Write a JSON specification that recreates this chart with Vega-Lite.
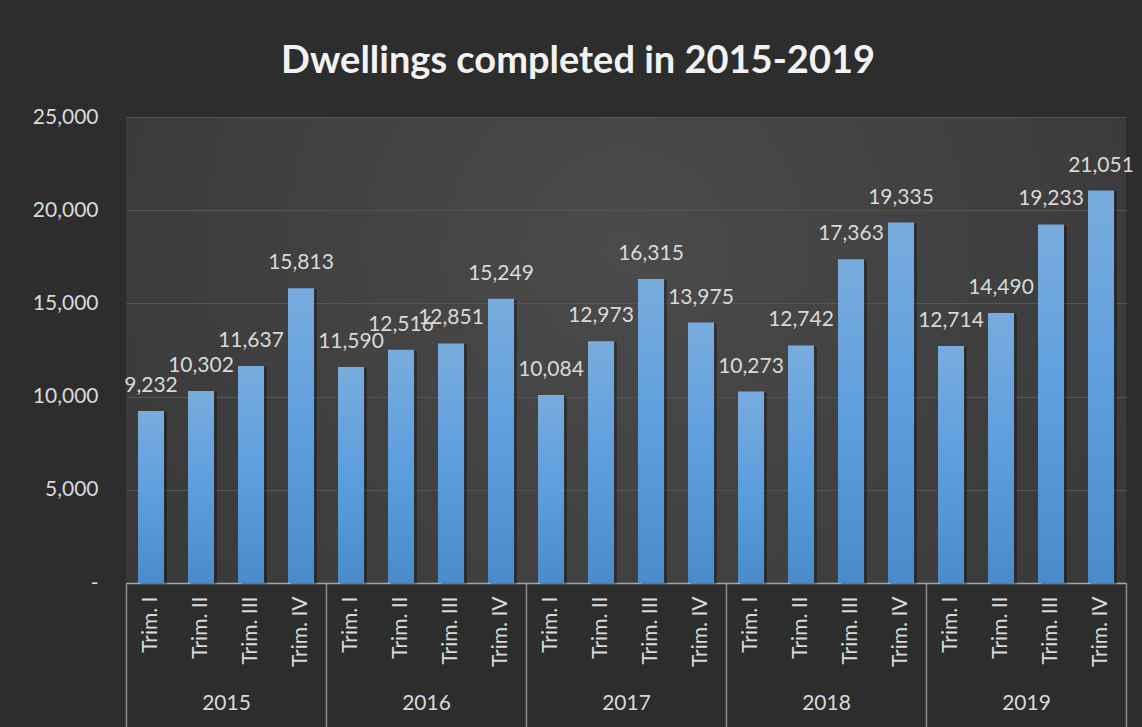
{
  "$schema": "https://vega.github.io/schema/vega-lite/v6.json",
  "width": 1000,
  "height": 466,
  "autosize": {"type": "none"},
  "padding": {"left": 126, "top": 117, "right": 16, "bottom": 144},
  "background": "#2d2d2d",
  "config": {
    "font": "Lato",
    "view": {
      "stroke": null,
      "fill": {
        "gradient": "radial",
        "x1": 0.5, "y1": 0.4, "r1": 0,
        "x2": 0.5, "y2": 0.4, "r2": 0.8,
        "stops": [
          {"offset": 0, "color": "#4b4b4b"},
          {"offset": 1, "color": "#323232"}
        ]
      }
    }
  },
  "title": {
    "text": "Dwellings completed in 2015-2019",
    "font": "Lato",
    "fontSize": 38,
    "fontWeight": "bold",
    "color": "#f2f2f2",
    "anchor": "middle",
    "dx": -48,
    "offset": 25
  },
  "data": {
    "values": [
      {"year": "2015", "key": "2015|Trim. I", "value": 9232},
      {"year": "2015", "key": "2015|Trim. II", "value": 10302},
      {"year": "2015", "key": "2015|Trim. III", "value": 11637},
      {"year": "2015", "key": "2015|Trim. IV", "value": 15813},
      {"year": "2016", "key": "2016|Trim. I", "value": 11590},
      {"year": "2016", "key": "2016|Trim. II", "value": 12516},
      {"year": "2016", "key": "2016|Trim. III", "value": 12851},
      {"year": "2016", "key": "2016|Trim. IV", "value": 15249},
      {"year": "2017", "key": "2017|Trim. I", "value": 10084},
      {"year": "2017", "key": "2017|Trim. II", "value": 12973},
      {"year": "2017", "key": "2017|Trim. III", "value": 16315},
      {"year": "2017", "key": "2017|Trim. IV", "value": 13975},
      {"year": "2018", "key": "2018|Trim. I", "value": 10273},
      {"year": "2018", "key": "2018|Trim. II", "value": 12742},
      {"year": "2018", "key": "2018|Trim. III", "value": 17363},
      {"year": "2018", "key": "2018|Trim. IV", "value": 19335},
      {"year": "2019", "key": "2019|Trim. I", "value": 12714},
      {"year": "2019", "key": "2019|Trim. II", "value": 14490},
      {"year": "2019", "key": "2019|Trim. III", "value": 19233},
      {"year": "2019", "key": "2019|Trim. IV", "value": 21051}
    ]
  },
  "layer": [
    {
      "mark": {"type": "bar", "opacity": 0},
      "encoding": {
        "x": {
          "field": "year",
          "type": "nominal",
          "sort": null,
          "scale": {"type": "band", "paddingInner": 0, "paddingOuter": 0},
          "axis": {
            "orient": "bottom",
            "title": null,
            "grid": false,
            "domain": true,
            "domainColor": "#a6a6a6",
            "domainWidth": 1.5,
            "ticks": true,
            "tickBand": "extent",
            "tickSize": 144,
            "tickColor": "#8c8c8c",
            "tickWidth": 1.5,
            "labelAngle": 0,
            "labelBaseline": "middle",
            "labelPadding": -24,
            "labelFontSize": 21,
            "labelColor": "#d9d9d9",
            "labelFont": "Lato"
          }
        }
      }
    },
    {
      "mark": {"type": "bar", "color": "#000000", "opacity": 0.3, "xOffset": 3, "yOffset": 1},
      "encoding": {
        "x": {
          "field": "key",
          "type": "nominal",
          "sort": null,
          "scale": {"type": "band", "paddingInner": 0.48, "paddingOuter": 0.24},
          "axis": null
        },
        "y": {"field": "value", "type": "quantitative"}
      }
    },
    {
      "mark": {
        "type": "bar",
        "color": {
          "gradient": "linear",
          "x1": 0, "y1": 0, "x2": 0, "y2": 1,
          "stops": [
            {"offset": 0, "color": "#78acdd"},
            {"offset": 0.5, "color": "#5d9edf"},
            {"offset": 1, "color": "#4a8bcc"}
          ]
        }
      },
      "encoding": {
        "x": {
          "field": "key",
          "type": "nominal",
          "sort": null,
          "scale": {"type": "band", "paddingInner": 0.48, "paddingOuter": 0.24},
          "axis": {
            "orient": "bottom",
            "title": null,
            "grid": false,
            "domain": false,
            "ticks": false,
            "labelExpr": "split(datum.label, '|')[1]",
            "labelAngle": -90,
            "labelAlign": "right",
            "labelBaseline": "middle",
            "labelPadding": 13,
            "labelOverlap": false,
            "labelFontSize": 21,
            "labelColor": "#d9d9d9",
            "labelFont": "Lato"
          }
        },
        "y": {
          "field": "value",
          "type": "quantitative",
          "scale": {"domain": [0, 25000], "nice": false},
          "axis": {
            "title": null,
            "values": [0, 5000, 10000, 15000, 20000, 25000],
            "labelExpr": "datum.value === 0 ? '-' : format(datum.value, ',')",
            "domain": false,
            "ticks": false,
            "grid": true,
            "gridColor": "#555555",
            "gridWidth": 1,
            "labelPadding": 28,
            "labelFontSize": 21,
            "labelColor": "#d9d9d9",
            "labelFont": "Lato",
            "encode": {
              "labels": {
                "update": {
                  "dx": {"signal": "datum.value === 0 ? -10 : 0"}
                }
              }
            }
          }
        }
      }
    },
    {
      "mark": {
        "type": "text",
        "dy": -25,
        "baseline": "middle",
        "align": "center",
        "fontSize": 21,
        "font": "Lato",
        "color": "#d9d9d9"
      },
      "encoding": {
        "x": {
          "field": "key",
          "type": "nominal",
          "sort": null,
          "scale": {"type": "band", "paddingInner": 0.48, "paddingOuter": 0.24},
          "axis": null
        },
        "y": {"field": "value", "type": "quantitative"},
        "text": {"field": "value", "type": "quantitative", "format": ","}
      }
    }
  ],
  "resolve": {"scale": {"x": "independent"}}
}
